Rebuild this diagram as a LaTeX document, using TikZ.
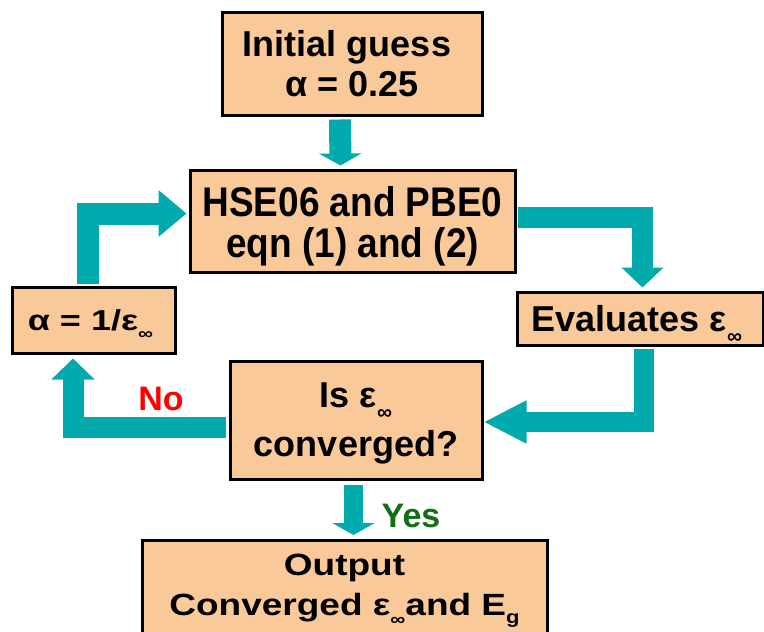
\documentclass[tikz,border=0pt]{standalone}
\usepackage{fontspec}
\usepackage{graphicx}
\setmainfont{Liberation Sans}
\usetikzlibrary{arrows.meta,calc}
\definecolor{boxfill}{RGB}{249,201,154}
\definecolor{flow}{RGB}{0,170,173}
\definecolor{nored}{RGB}{255,0,0}
\definecolor{yesgreen}{RGB}{20,110,20}
\newcommand{\infsub}{\raisebox{-12pt}[0pt][0pt]{\fontsize{21}{21}\selectfont ∞}}
\newcommand{\gsub}{\raisebox{-9pt}[0pt][0pt]{\fontsize{22}{22}\selectfont g}}
\newcommand{\vstack}[2]{\scalebox{1}[#1]{\begin{tabular}{@{}c@{}}#2\end{tabular}}}
\begin{document}
\begin{tikzpicture}[x=1pt,y=-1pt,
  box/.style={draw=black, line width=3pt, fill=boxfill, inner sep=0pt},
  boxtext/.style={align=center, inner sep=0pt, font=\fontsize{36}{40}\selectfont\bfseries},
  lbl/.style={inner sep=0pt, font=\fontsize{34}{40}\selectfont\bfseries},
  flowline/.style={draw=flow, line width=#1}
]
\clip (0,0) rectangle (764,632);
\fill[white] (0,0) rectangle (764,632);

\node[box, boxtext, minimum width=260, minimum height=103] (init) at (352,63.5)
  {Initial guess\hspace*{10pt}\\α = 0.25};
\node[box, minimum width=325, minimum height=102] (hse) at (352.5,221) {};
\node[inner sep=0pt, anchor=north, font=\fontsize{37}{32}\selectfont\bfseries] (hsetext) at (352.5,186)
  {\vstack{1.12}{HSE06 and PBE0\\eqn (1) and (2)}};
\node[box, boxtext, minimum width=163, minimum height=66] (alpha) at (93.5,320)
  {\scalebox{1}[0.8]{α = 1/ε\infsub}\hspace*{6pt}};
\node[box, boxtext, minimum width=246, minimum height=53] (eval) at (640,318.5)
  {Evaluates ε\infsub\hspace*{6pt}};
\node[box, boxtext, text depth=0pt, minimum width=252, minimum height=118] (conv) at (356,420)
  {Is ε\infsub\\[9pt]converged?};
\node[box, minimum width=405, minimum height=130, anchor=north] (out) at (344.5,539) {};
\node[inner sep=0pt, anchor=north, font=\fontsize{37}{49}\selectfont\bfseries] (outtext) at (344.5,546.5)
  {\vstack{0.83}{Output\\Converged ε\infsub and E\gsub}};

% arrows
\draw[flowline=22pt, -{Triangle[width=42pt,length=12pt]}]
  ($(init.south)+(-12,3)$) -- ($(hse.north)+(-12,-3)$);
\draw[flowline=21pt, -{Triangle[width=41pt,length=20pt]}]
  ($(hse.east)+(1,-3.5)$) -| ($(eval.north)+(2.5,-3)$);
\draw[flowline=20pt, -{Triangle[width=40pt,length=43pt]}]
  ($(eval.south)+(3.5,2)$) |- ($(conv.east)+(0,2)$);
\draw[flowline=21pt, -{Triangle[width=42pt,length=21pt]}]
  ($(conv.west)+(-3,7.5)$) -| ($(alpha.south)+(-20.5,4)$);
\draw[flowline=22pt, -{Triangle[width=45pt,length=28pt]}]
  ($(alpha.north)+(-6,-2)$) |- ($(hse.west)+(-2,-7.5)$);
\draw[flowline=19pt, -{Triangle[width=42pt,length=12pt]}]
  ($(conv.south)+(-2.5,4)$) -- ($(out.north)+(9,-4)$);

\node[lbl, text=nored] (no) at (161,399) {No};
\node[lbl, text=yesgreen] (yes) at (411,516) {Yes};
\end{tikzpicture}
\end{document}
